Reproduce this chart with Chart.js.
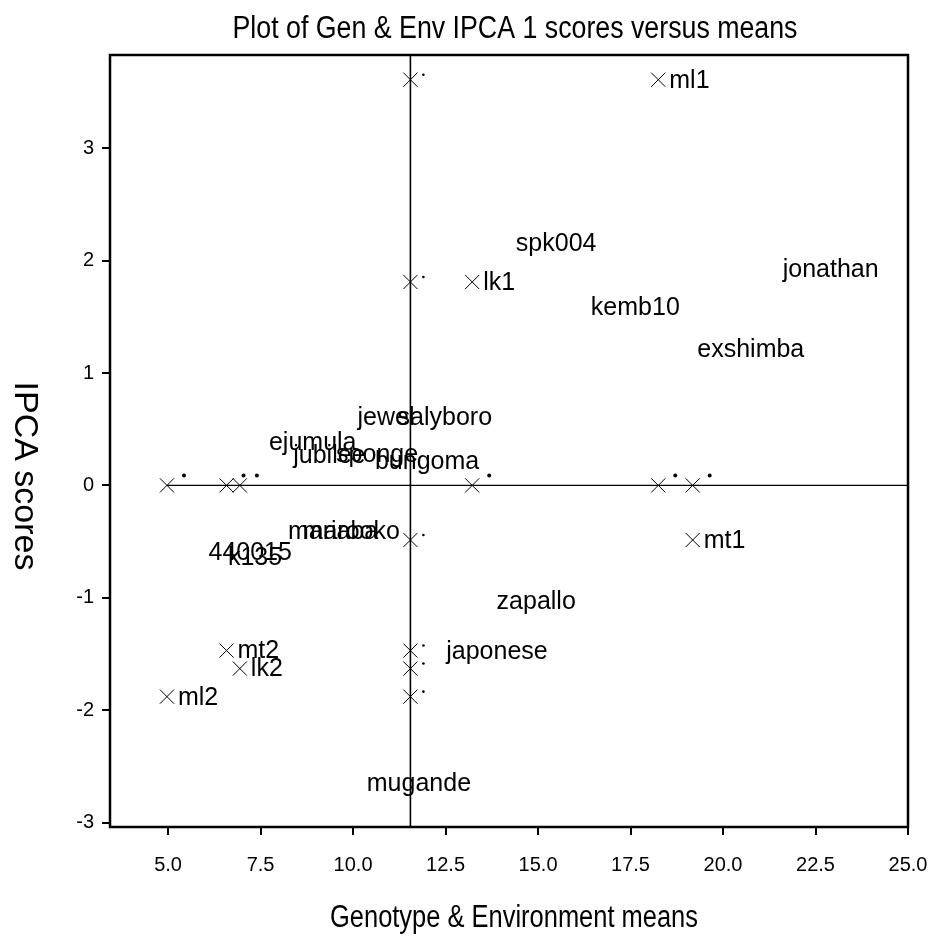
<!DOCTYPE html>
<html><head><meta charset="utf-8">
<script src="https://cdn.jsdelivr.net/npm/chart.js@4.4.1/dist/chart.umd.min.js"></script>
<style>html,body{margin:0;padding:0;background:#fff;} canvas{display:block;}</style>
</head><body>
<canvas id="c" width="929" height="946" style="width:929px;height:946px"></canvas>
<script>
const titleText = 'Plot of Gen & Env IPCA 1 scores versus means';
const xTitleText = 'Genotype & Environment means';
const yTitleText = 'IPCA scores';

// Environments (crosses with labels)
const envNames  = ['ml1', 'lk1', 'mt1', 'mt2', 'lk2', 'ml2'];
const envMeans  = [18.25, 13.22, 19.18, 6.58, 6.94, 4.97];
const envScores = [3.61, 1.81, -0.486, -1.47, -1.63, -1.88];

// Genotypes (labels only)
const genoNames  = ['spk004', 'jonathan', 'kemb10', 'exshimba', 'jewel', 'salyboro', 'ejumula', 'jubilee', 'sponge', 'bungoma', 'mariaba', 'marooko', '440015', 'k135', 'zapallo', 'japonese', 'mugande'];
const genoMeans  = [15.49, 22.91, 17.63, 20.75, 10.89, 12.48, 8.91, 9.36, 10.65, 12.00, 9.46, 9.95, 7.22, 7.35, 14.95, 13.89, 11.78];
const genoScores = [2.15, 1.915, 1.575, 1.20, 0.60, 0.60, 0.375, 0.26, 0.27, 0.207, -0.415, -0.415, -0.607, -0.65, -1.036, -1.48, -2.66];

const grandMean = 11.55;
const xTicks = [5, 7.5, 10, 12.5, 15, 17.5, 20, 22.5, 25];
const yTicks = [-3, -2, -1, 0, 1, 2, 3];
const xMin = 3.43, xMax = 25, yMin = -3.04, yMax = 3.83;

const FONT = '"Liberation Sans", Arial, sans-serif';

const envPts  = envMeans.map((m, i) => ({x: m, y: envScores[i]}));
const xProj   = envMeans.map(m => ({x: m, y: 0}));
const yProj   = envScores.map(s => ({x: grandMean, y: s}));
const genoPts = genoMeans.map((m, i) => ({x: m, y: genoScores[i]}));

function scaledText(ctx, text, cx, cy, font, targetW, rot) {
  ctx.save();
  ctx.font = font;
  const w = ctx.measureText(text).width;
  ctx.translate(cx, cy);
  if (rot) ctx.rotate(rot);
  if (targetW) ctx.scale(targetW / w, 1);
  ctx.textAlign = 'center';
  ctx.textBaseline = 'middle';
  ctx.fillStyle = '#000';
  ctx.fillText(text, 0, 0);
  ctx.restore();
}

const decor = {
  id: 'decor',
  afterDatasetsDraw(chart) {
    const ctx = chart.ctx;
    const a = chart.chartArea;
    ctx.save();
    ctx.fillStyle = '#000';
    // genotype labels
    ctx.font = '25px ' + FONT;
    ctx.textAlign = 'center';
    ctx.textBaseline = 'middle';
    chart.getDatasetMeta(5).data.forEach((p, i) => ctx.fillText(genoNames[i], p.x, p.y));
    // environment labels
    ctx.textAlign = 'left';
    chart.getDatasetMeta(2).data.forEach((p, i) => ctx.fillText(envNames[i], p.x + 11, p.y + 1));
    // small dots beside projected crosses
    chart.getDatasetMeta(3).data.forEach(p => { ctx.beginPath(); ctx.arc(p.x + 17, p.y - 10, 2, 0, Math.PI * 2); ctx.fill(); });
    chart.getDatasetMeta(4).data.forEach(p => { ctx.beginPath(); ctx.arc(p.x + 13, p.y - 5, 1.3, 0, Math.PI * 2); ctx.fill(); });
    // frame
    ctx.strokeStyle = '#000';
    ctx.lineWidth = 2.5;
    ctx.strokeRect(a.left, a.top, a.right - a.left, a.bottom - a.top);
    ctx.restore();
  },
  afterDraw(chart) {
    const ctx = chart.ctx;
    scaledText(ctx, titleText, 515, 29, '31px ' + FONT, 565);
    scaledText(ctx, xTitleText, 514, 918, '31px ' + FONT, 368);
    scaledText(ctx, yTitleText, 24, 476, '34px ' + FONT, null, Math.PI / 2);
  }
};

const crossStyle = { pointStyle: 'crossRot', pointRadius: 10, borderColor: '#000', borderWidth: 1, backgroundColor: '#000' };

new Chart(document.getElementById('c'), {
  type: 'scatter',
  data: {
    datasets: [
      { type: 'line', data: [{x: Math.min(...envMeans), y: 0}, {x: xMax, y: 0}], borderColor: '#000', borderWidth: 1.2, pointRadius: 0, fill: false },
      { type: 'line', data: [{x: grandMean, y: yMin}, {x: grandMean, y: yMax}], borderColor: '#000', borderWidth: 1.6, pointRadius: 0, fill: false },
      Object.assign({ data: envPts }, crossStyle),
      Object.assign({ data: xProj }, crossStyle),
      Object.assign({ data: yProj }, crossStyle),
      { data: genoPts, pointRadius: 0, borderColor: 'rgba(0,0,0,0)', backgroundColor: 'rgba(0,0,0,0)' }
    ]
  },
  options: {
    responsive: false,
    animation: false,
    events: [],
    layout: { padding: { top: 55, right: 21, left: 0, bottom: 0 } },
    plugins: { legend: { display: false }, tooltip: { enabled: false }, title: { display: false } },
    scales: {
      x: {
        type: 'linear', min: xMin, max: xMax,
        afterBuildTicks: s => { s.ticks = xTicks.map(v => ({value: v})); },
        afterFit: s => { s.height = 119; s.paddingLeft = 0; s.paddingRight = 0; },
        grid: { drawOnChartArea: false, tickLength: 8, color: '#000', lineWidth: 2 },
        border: { display: false },
        ticks: { color: '#000', font: { family: FONT, size: 20 }, padding: 18, maxRotation: 0, autoSkip: false, callback: v => Number(v).toFixed(1) }
      },
      y: {
        type: 'linear', min: yMin, max: yMax,
        afterBuildTicks: s => { s.ticks = yTicks.map(v => ({value: v})); },
        afterFit: s => { s.width = 110; s.paddingTop = 0; s.paddingBottom = 0; },
        grid: { drawOnChartArea: false, tickLength: 8, color: '#000', lineWidth: 2 },
        border: { display: false },
        ticks: { color: '#000', font: { family: FONT, size: 20 }, padding: 8, autoSkip: false, callback: v => String(v) }
      }
    }
  },
  plugins: [decor]
});
</script>
</body></html>
